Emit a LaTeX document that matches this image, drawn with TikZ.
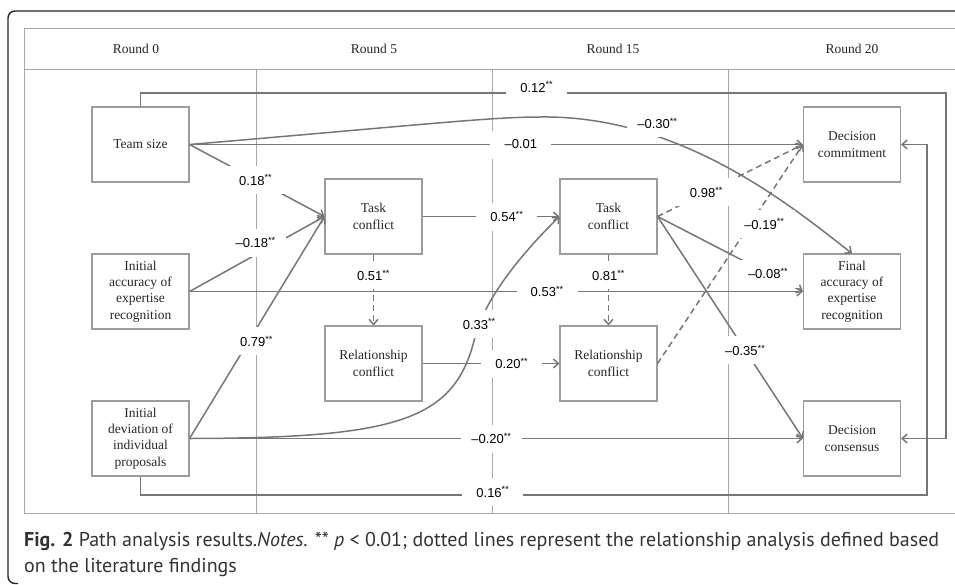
\documentclass[tikz,border=0pt]{standalone}
\usepackage{fontspec}
\setmainfont{Liberation Serif}
\setsansfont{Liberation Sans}
\newfontfamily\capfont{PT Sans}
\usetikzlibrary{arrows.meta}
\definecolor{linkgray}{HTML}{767676}
\definecolor{rulegray}{HTML}{A8A8A8}
\definecolor{boxgray}{HTML}{9C9C9C}
\definecolor{capgray}{HTML}{333333}
\begin{document}
\begin{tikzpicture}[x=1pt,y=-1pt]
	\tikzset{box/.style = {shape=rectangle,draw=boxgray,line width=1.1pt,minimum width=97pt,minimum height=75pt,align=center,inner sep=2pt,text=black!85,font=\fontsize{13.5}{16.3}\selectfont}}
	\tikzset{link/.style = {draw=linkgray,line width=1.5pt,-{Straight Barb[length=5pt,width=9pt]}}}
	\tikzset{rel/.style = {dash pattern=on 6pt off 4pt}}
	\tikzset{lbl/.style = {fill=white,inner sep=0pt,minimum width=61pt,minimum height=28pt,font=\sffamily\fontsize{13}{15}\selectfont}}
	\tikzset{rule/.style = {draw=rulegray,line width=1pt}}
	\tikzset{hdr/.style = {text=black!85,font=\fontsize{13.5}{16}\selectfont}}
	\useasboundingbox (0,0) rectangle (955,584);
	% frame and rounds
	\draw[black!85,line width=1.4pt,rounded corners=7pt] (960,11) -| (8,583.5) -- (18,583.5);
	\draw[rule] (955,28) -- (24,28) -- (24,513) -- (955,513);
	\draw[rule] (24,69) -- (955,69);
	\draw[rule] (256,69) -- (256,513);
	\draw[rule] (492,69) -- (492,513);
	\draw[rule] (728,69) -- (728,513);
	\node[hdr] (r0) at (136,49) {Round 0};
	\node[hdr] (r5) at (374,49) {Round 5};
	\node[hdr] (r15) at (613,49) {Round 15};
	\node[hdr] (r20) at (852,49) {Round 20};
	% variables
	\node[box] (size) at (140.5,144.5) {Team size};
	\node[box] (acc) at (140.5,291.5) {Initial\\accuracy of\\expertise\\recognition};
	\node[box] (dev) at (140.5,438.5) {Initial\\deviation of\\individual\\proposals};
	\node[box] (tf5) at (373.5,216.5) {Task\\conflict};
	\node[box] (rc5) at (373.5,363.5) {Relationship\\conflict};
	\node[box] (tf15) at (608.5,216.5) {Task\\conflict};
	\node[box] (rc15) at (608.5,363.5) {Relationship\\conflict};
	\node[box] (com) at (852,144.5) {Decision\\commitment};
	\node[box] (fin) at (852,291.5) {Final\\accuracy of\\expertise\\recognition};
	\node[box] (cons) at (852,438.5) {Decision\\consensus};
	\coordinate (ctop) at (946,93);
	\coordinate (cbot) at (927,495);
	% paths
	\draw[link] (size.north) |- node[lbl,pos=.746,yshift=6pt] {0.12\textsuperscript{**}} (ctop) |- (cons.east);
	\draw[link] (dev.south) |- node[lbl,pos=.724,yshift=3pt] {0.16\textsuperscript{**}} (cbot) |- (com.east);
	\draw[link] (size.east) .. controls (420,125) and (490,117) .. (540,117) .. controls (680,115) and (790,205) .. (fin.north) node[lbl,pos=.3,yshift=13pt] {--0.30\textsuperscript{**}};
	\path (size.east) edge[link] node[lbl,pos=.54] {--0.01} (com.west);
	\path (size.east) edge[link] node[lbl,pos=.49] {0.18\textsuperscript{**}} (tf5.west);
	\path (acc.east) edge[link] node[lbl,pos=.49,yshift=12pt] {--0.18\textsuperscript{**}} (tf5.west);
	\path (dev.east) edge[link] node[lbl,pos=.437,xshift=8pt] {0.79\textsuperscript{**}} (tf5.west);
	\path (acc.east) edge[link] node[lbl,pos=.583] {0.53\textsuperscript{**}} (fin.west);
	\path (dev.east) edge[link] node[lbl,pos=.492] {--0.20\textsuperscript{**}} (cons.west);
	\draw[link] (dev.east) .. controls (400,438) and (455,420) .. (475,337) .. controls (482,310) and (505,270) .. (tf15.west) node[lbl,pos=.15] {0.33\textsuperscript{**}};
	\path (tf5.east) edge[link] node[lbl,pos=.616] {0.54\textsuperscript{**}} (tf15.west);
	\path (rc5.east) edge[link] node[lbl,pos=.652] {0.20\textsuperscript{**}} (rc15.west);
	\path (tf5.south) edge[link,rel] node[lbl,pos=.29] {0.51\textsuperscript{**}} (rc5.north);
	\path (tf15.south) edge[link,rel] node[lbl,pos=.29] {0.81\textsuperscript{**}} (rc15.north);
	\path (tf15.east) edge[link,rel] node[lbl,pos=.336] {0.98\textsuperscript{**}} (com.west);
	\path (rc15.east) edge[link,rel] node[lbl,pos=.638,xshift=14pt] {--0.19\textsuperscript{**}} (com.west);
	\path (tf15.east) edge[link] node[lbl,pos=.76] {--0.08\textsuperscript{**}} (fin.west);
	\path (tf15.east) edge[link] node[lbl,pos=.603] {--0.35\textsuperscript{**}} (cons.west);
	% caption
	\node[anchor=base west,inner sep=0pt,text=capgray,font=\capfont\fontsize{20}{27}\selectfont] (cap1) at (24,546.5) {\textbf{Fig. 2} Path analysis results.\textit{Notes.} ** \textit{p} < 0.01; dotted lines represent the relationship analysis defined based};
	\node[anchor=base west,inner sep=0pt,text=capgray,font=\capfont\fontsize{20}{27}\selectfont] (cap2) at (24,572) {on the literature findings};
\end{tikzpicture}
\end{document}
